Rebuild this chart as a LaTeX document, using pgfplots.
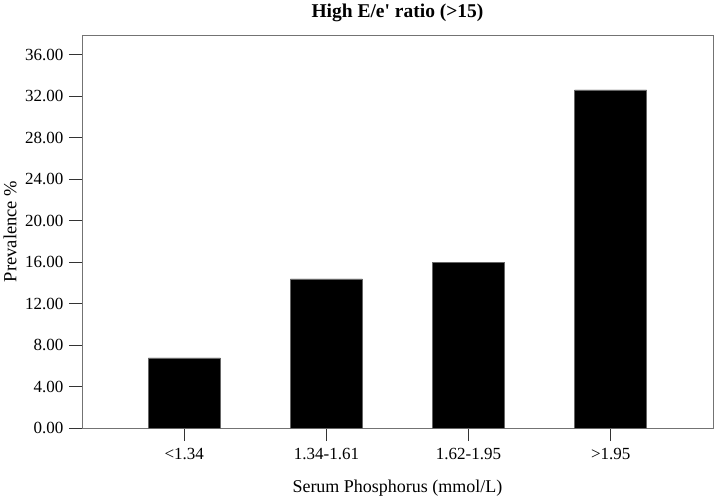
\documentclass[border=0pt]{standalone}
\usepackage{fontspec}
\setmainfont{Liberation Serif}
\usepackage{pgfplots}
\pgfplotsset{compat=1.18}
\begin{document}
\begin{tikzpicture}
\useasboundingbox (-82bp,-71bp) rectangle (634bp,428bp);
\begin{axis}[
  at={(0,0)}, anchor=south west,
  scale only axis, width=631bp, height=393bp,
  xmin=-0.72, xmax=3.72, ymin=0, ymax=37.9,
  axis line style={draw=black!55, line width=0.8pt},
  xtick={0,1,2,3},
  xticklabels={{<1.34},{1.34-1.61},{1.62-1.95},{>1.95}},
  ytick={0,4,...,36},
  tick align=outside, tick pos=left,
  major tick length=13bp,
  tick style={draw=black!80, line width=0.9pt},
  /pgf/number format/assume math mode=true,
  /pgf/number format/fixed, /pgf/number format/fixed zerofill,
  /pgf/number format/precision=2,
  ticklabel style={font=\fontsize{17bp}{19bp}\selectfont},
  yticklabel style={anchor=east, xshift=-2bp},
  xticklabel style={anchor=center, yshift=-13bp},
  title={\textbf{High E/e\textquotesingle\ ratio (>15)}},
  title style={at={(0.5,1)}, anchor=center, yshift=16bp, font=\fontsize{19.5bp}{21bp}\selectfont},
  xlabel={Serum Phosphorus (mmol/L)},
  xlabel style={at={(0.5,0)}, anchor=center, yshift=-60bp, font=\fontsize{18bp}{20bp}\selectfont},
  ylabel={Prevalence \%},
  ylabel style={at={(0,0.5)}, anchor=center, rotate=0, yshift=72bp, font=\fontsize{18.5bp}{20bp}\selectfont},
  clip=false,
]
\addplot[ybar, bar width=0.507, fill=black, draw=black!60, line width=0.5pt]
  coordinates {(0,6.76) (1,14.38) (2,16.0) (3,32.6)};
\end{axis}
\end{tikzpicture}
\end{document}
